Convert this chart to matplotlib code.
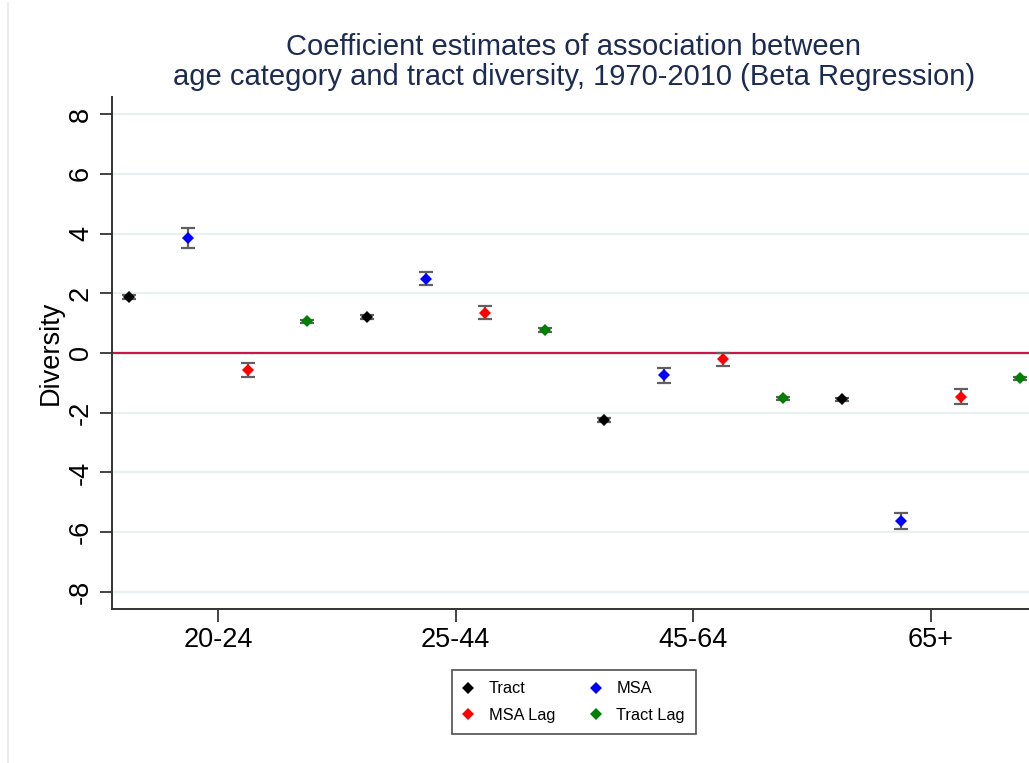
import numpy as np
import matplotlib.pyplot as plt
from matplotlib.lines import Line2D

plt.rcParams['font.family'] = ['Liberation Sans', 'DejaVu Sans']

# data
categories = ['20-24', '25-44', '45-64', '65+']
series = ['Tract', 'MSA', 'MSA Lag', 'Tract Lag']
colors = ['black', '#0000ff', '#ff0000', '#008000']

tract = [1.88, 1.21, -2.24, -1.55]
msa = [3.85, 2.49, -0.74, -5.62]
msa_lag = [-0.57, 1.35, -0.21, -1.46]
tract_lag = [1.06, 0.77, -1.52, -0.85]

tract_err = [0.06, 0.06, 0.06, 0.06]
msa_err = [0.33, 0.22, 0.25, 0.27]
msa_lag_err = [0.23, 0.21, 0.22, 0.24]
tract_lag_err = [0.06, 0.06, 0.06, 0.06]

values = [tract, msa, msa_lag, tract_lag]
errors = [tract_err, msa_err, msa_lag_err, tract_lag_err]
offsets = [-0.375, -0.125, 0.125, 0.375]

fig = plt.figure(figsize=(10.29, 7.63), dpi=100)
ax = fig.add_axes([112 / 1029, 1 - 609 / 763, 1 - 112 / 1029, (609 - 97) / 763])

x = np.arange(1, len(categories) + 1)

ax.axhline(0, color='#c8174a', lw=1.6, zorder=2)
for vals, errs, off, col, name in zip(values, errors, offsets, colors, series):
    ax.errorbar(x + off, vals, yerr=errs, fmt='none', ecolor='#606060',
                elinewidth=1.6, capsize=4.7, capthick=1.6, zorder=3)
    ax.plot(x + off, vals, ls='none', marker='D', ms=6.3, color=col,
            mec=col, mew=0, zorder=4, label=name)

ax.set_xlim(0.554, 4.412)
ax.set_ylim(-8.57, 8.57)
ax.set_xticks(x)
ax.set_xticklabels(categories, fontsize=19.5)
ax.set_yticks(np.arange(-8, 9, 2))
ax.set_yticklabels([str(v) for v in range(-8, 9, 2)], fontsize=19.5,
                   rotation=90, va='center')
ax.tick_params(axis='both', length=9, width=1.2, color='#222222', pad=4)
ax.grid(axis='y', color='#e9f0f2', lw=1.6)
ax.set_axisbelow(True)
for s in ['top', 'right']:
    ax.spines[s].set_visible(False)
for s in ['left', 'bottom']:
    ax.spines[s].set_color('#333333')
    ax.spines[s].set_linewidth(1.4)
ax.set_ylabel('Diversity', fontsize=19.5, labelpad=3)

fig.text(574 / 1029, 1 - 62 / 763,
         'Coefficient estimates of association between\n'
         'age category and tract diversity, 1970-2010 (Beta Regression)',
         ha='center', va='center', fontsize=21, color='#1c2b52',
         linespacing=1.12)

# legend fills column-wise, so order gives rows: Tract, MSA / MSA Lag, Tract Lag
order = [0, 2, 1, 3]
handles = [Line2D([], [], ls='none', marker='D', ms=5.8, color=colors[i], mew=0)
           for i in order]
leg = fig.legend(handles, [series[i] for i in order], ncol=2, loc='center',
                 bbox_to_anchor=(574 / 1029, 1 - 702 / 763), fontsize=11.8,
                 frameon=True, fancybox=False, edgecolor='#222222',
                 handlelength=0.6, handletextpad=0.95, columnspacing=2.2,
                 borderpad=0.7, labelspacing=0.7)
leg.get_frame().set_linewidth(1.2)

fig.add_artist(Line2D([7.5 / 1029, 7.5 / 1029], [0, 1 - 3 / 763],
                      transform=fig.transFigure, color='#ececec', lw=1.5))

fig.savefig('out.png', dpi=100)
